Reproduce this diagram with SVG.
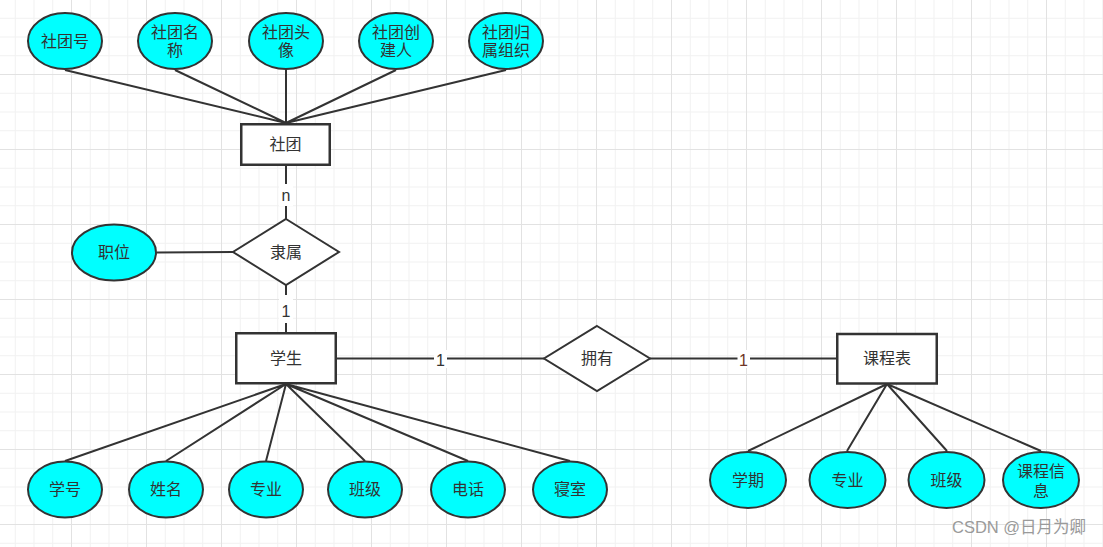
<svg xmlns="http://www.w3.org/2000/svg" width="1103" height="547" viewBox="0 0 1103 547">
<style>
.ln{stroke:#333333;stroke-width:2;fill:none}
.at{fill:#00ffff;stroke:#333333;stroke-width:2}
.en{fill:#ffffff;stroke:#333333;stroke-width:2.5}
.rl{fill:#ffffff;stroke:#333333;stroke-width:2}
.tx{font-family:"Liberation Sans","Noto Sans CJK SC",sans-serif;font-size:16px;fill:#333333;text-anchor:middle;dominant-baseline:central}
.lb{font-family:"Liberation Sans","Noto Sans CJK SC",sans-serif;font-size:16px;fill:#333333;text-anchor:middle}
.wm{font-family:"Liberation Sans","Noto Sans CJK SC",sans-serif;font-size:16.5px;fill:#9a9a9a}
</style>
<defs>
<pattern id="grid" x="71" y="74" width="75" height="75" patternUnits="userSpaceOnUse">
<path d="M19.25 0V75M38 0V75M56.75 0V75M0 19.25H75M0 38H75M0 56.75H75" stroke="#f1f1f1" stroke-width="1" fill="none"/>
<path d="M0.5 0V75M0 0.5H75" stroke="#e2e2e2" stroke-width="1" fill="none"/>
</pattern>
</defs>
<rect width="1103" height="547" fill="#ffffff"/>
<rect width="1103" height="547" fill="url(#grid)"/>

<g id="connectors">
<path class="ln" d="M65 70L286 123M175 70L286 123M286 70L286 123M396 70L286 123M506 70L286 123"/>
<path class="ln" d="M286 166V219"/>
<path class="ln" d="M157 252.5L233 252"/>
<path class="ln" d="M286 285V332"/>
<path class="ln" d="M337 358.5H544"/>
<path class="ln" d="M650 358.5H836"/>
<path class="ln" d="M286 384L65 461M286 384L166 461M286 384L266 461M286 384L365 461M286 384L468 461M286 384L570 461"/>
<path class="ln" d="M887 384L748 451M887 384L847 451M887 384L947 451M887 384L1041 451"/>
<rect x="279" y="184" width="14" height="22" fill="#ffffff"/>
<text class="lb" x="286" y="201">n</text>
<rect x="279" y="295" width="14" height="28" fill="#ffffff"/>
<text class="lb" x="286" y="317">1</text>
<rect x="434" y="350" width="13" height="18" fill="#ffffff"/>
<text class="lb" x="440.5" y="366">1</text>
<rect x="737.5" y="350" width="12.5" height="18" fill="#ffffff"/>
<text class="lb" x="743.5" y="366" style="fill:#6e3526">1</text>
</g>

<g id="n-shetuanhao"><ellipse class="at" cx="65" cy="41" rx="37" ry="28"/><text class="tx" x="65" y="41">社团号</text></g>
<g id="n-shetuanmingcheng"><ellipse class="at" cx="175" cy="41" rx="37" ry="28"/><text class="tx" x="175" y="32"><tspan x="175" y="32">社团名</tspan><tspan x="175" y="50">称</tspan></text></g>
<g id="n-shetuantouxiang"><ellipse class="at" cx="286" cy="41" rx="37" ry="28"/><text class="tx" x="286" y="32"><tspan x="286" y="32">社团头</tspan><tspan x="286" y="50">像</tspan></text></g>
<g id="n-shetuanchuangjianren"><ellipse class="at" cx="396" cy="41" rx="37" ry="28"/><text class="tx" x="396" y="32"><tspan x="396" y="32">社团创</tspan><tspan x="396" y="50">建人</tspan></text></g>
<g id="n-shetuanguishuzuzhi"><ellipse class="at" cx="506" cy="41" rx="37" ry="28"/><text class="tx" x="506" y="32"><tspan x="506" y="32">社团归</tspan><tspan x="506" y="50">属组织</tspan></text></g>

<g id="n-shetuan"><rect class="en" x="241.25" y="124.25" width="88.5" height="40.5"/><text class="tx" x="285.5" y="144.5">社团</text></g>
<g id="n-lishu"><polygon class="rl" points="286,219 339,252 286,285 233,252"/><text class="tx" x="286" y="252">隶属</text></g>
<g id="n-zhiwei"><ellipse class="at" cx="114" cy="252.5" rx="42" ry="28"/><text class="tx" x="114" y="252.5">职位</text></g>
<g id="n-xuesheng"><rect class="en" x="236.25" y="333.25" width="99.5" height="50"/><text class="tx" x="286" y="358.5">学生</text></g>
<g id="n-yongyou"><polygon class="rl" points="597,326 650,358.5 597,391 544,358.5"/><text class="tx" x="597" y="358.5">拥有</text></g>
<g id="n-kechengbiao"><rect class="en" x="837.25" y="334" width="99.5" height="49.5"/><text class="tx" x="887" y="358.5">课程表</text></g>

<g id="n-xuehao"><ellipse class="at" cx="65" cy="489.5" rx="37" ry="28"/><text class="tx" x="65" y="489.5">学号</text></g>
<g id="n-xingming"><ellipse class="at" cx="166" cy="489.5" rx="37" ry="28"/><text class="tx" x="166" y="489.5">姓名</text></g>
<g id="n-zhuanye1"><ellipse class="at" cx="266" cy="489.5" rx="37" ry="28"/><text class="tx" x="266" y="489.5">专业</text></g>
<g id="n-banji1"><ellipse class="at" cx="365" cy="489.5" rx="37" ry="28"/><text class="tx" x="365" y="489.5">班级</text></g>
<g id="n-dianhua"><ellipse class="at" cx="468" cy="489.5" rx="37" ry="28"/><text class="tx" x="468" y="489.5">电话</text></g>
<g id="n-qinshi"><ellipse class="at" cx="570" cy="489.5" rx="37" ry="28"/><text class="tx" x="570" y="489.5">寝室</text></g>

<g id="n-xueqi"><ellipse class="at" cx="748" cy="480" rx="38" ry="28"/><text class="tx" x="748" y="480">学期</text></g>
<g id="n-zhuanye2"><ellipse class="at" cx="847.5" cy="480" rx="38" ry="28"/><text class="tx" x="847.5" y="480">专业</text></g>
<g id="n-banji2"><ellipse class="at" cx="946.5" cy="480" rx="38" ry="28"/><text class="tx" x="946.5" y="480">班级</text></g>
<g id="n-kechengxinxi"><ellipse class="at" cx="1041" cy="480" rx="38" ry="28"/><text class="tx" x="1041" y="471"><tspan x="1041" y="471">课程信</tspan><tspan x="1041" y="490.5">息</tspan></text></g>

<text class="wm" x="952" y="533">CSDN @日月为卿</text>
</svg>
